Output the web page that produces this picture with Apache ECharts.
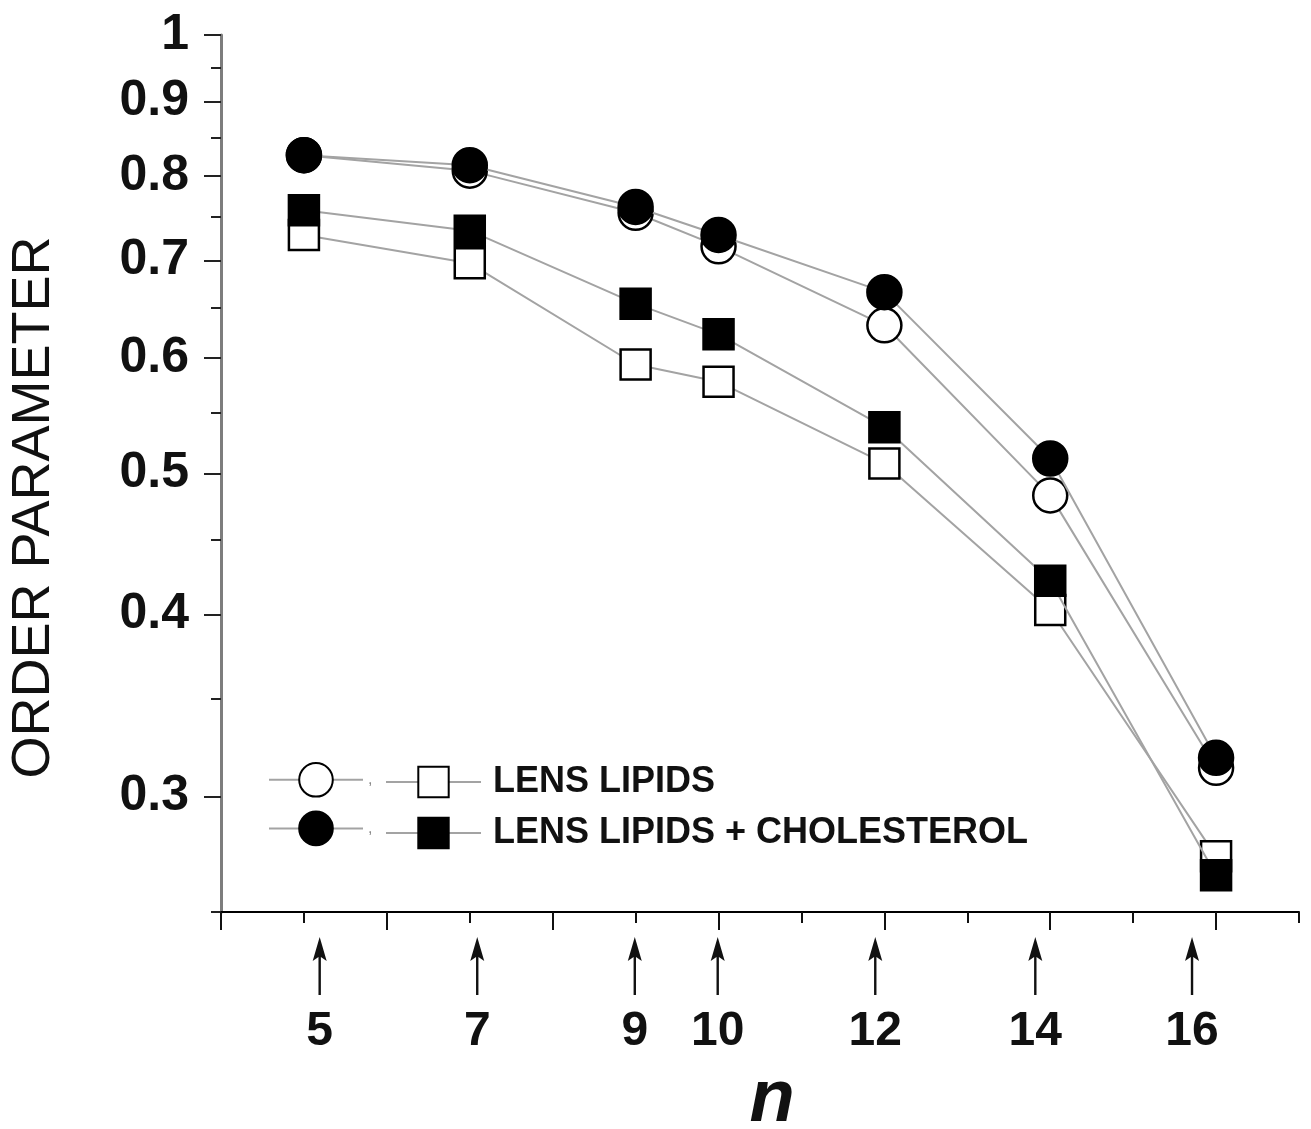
<!DOCTYPE html>
<html>
<head>
<meta charset="utf-8">
<script src="https://cdn.jsdelivr.net/npm/echarts@6/dist/echarts.min.js"></script>
<style>
html,body{margin:0;padding:0;background:#fff;}
#chart{width:1311px;height:1129px;}
</style>
</head>
<body>
<div id="chart"></div>
<script>
// ---- data ----
const nValues = [5, 7, 9, 10, 12, 14, 16];
const lensCircles = [0.827, 0.807, 0.755, 0.716, 0.632, 0.483, 0.314];
const cholCircles = [0.827, 0.814, 0.762, 0.729, 0.666, 0.512, 0.319];
const lensSquares = [0.729, 0.697, 0.594, 0.578, 0.508, 0.403, 0.273];
const cholSquares = [0.758, 0.734, 0.654, 0.623, 0.538, 0.422, 0.265];
const yMajorTicks = [0.3, 0.4, 0.5, 0.6, 0.7, 0.8, 0.9, 1];
const yMinorTicks = [0.25, 0.35, 0.45, 0.55, 0.65, 0.75, 0.85, 0.95];
const xMajorTicks = [4, 6, 8, 10, 12, 14, 16];
const xMinorTicks = [5, 7, 9, 11, 13, 15, 17];
const arrowPositions = [5.19, 7.09, 8.99, 9.99, 11.89, 13.82, 15.71];
const arrowLabels = ['5', '7', '9', '10', '12', '14', '16'];
const legendLabels = ['LENS LIPIDS', 'LENS LIPIDS + CHOLESTEROL'];

const FONT = "'Liberation Sans', Arial, Helvetica, sans-serif";
const lineGray = '#a3a3a3';
const toPairs = arr => arr.map((v, i) => [nValues[i], v]);

const gridRect = { left: 221, right: 12, top: 35, bottom: 217, outerBoundsMode: 'none', containLabel: false };

function mkSeries(name, data, symbol, size, filled, z) {
  return {
    name: name, type: 'line', xAxisIndex: 0, yAxisIndex: 0,
    data: toPairs(data), symbol: symbol, symbolSize: size, z: z,
    lineStyle: { color: lineGray, width: 2 },
    itemStyle: { color: filled ? '#000' : '#fff', borderColor: '#000', borderWidth: 2.5, opacity: 1 },
    emphasis: { disabled: true }, animation: false
  };
}

const sNames = ['lensC', 'cholC', legendLabels[0], legendLabels[1]];

const option = {
  animation: false,
  backgroundColor: '#fff',
  grid: [
    Object.assign({}, gridRect),
    Object.assign({}, gridRect),
    { left: 221, right: 12, top: 937, height: 58, outerBoundsMode: 'none' }
  ],
  xAxis: [
    { gridIndex: 0, type: 'value', min: 4, max: 17, position: 'bottom',
      axisLine: { show: true, lineStyle: { color: '#000', width: 2 } },
      axisTick: { show: true, customValues: xMajorTicks, length: 18, inside: false, lineStyle: { color: '#111', width: 2 } },
      axisLabel: { show: false }, splitLine: { show: false },
      name: 'n', nameLocation: 'middle', nameGap: 152,
      nameTextStyle: { fontFamily: FONT, fontSize: 74, fontStyle: 'italic', fontWeight: 'bold', color: '#111', padding: [0, 0, 0, 24] } },
    { gridIndex: 1, type: 'value', min: 4, max: 17, position: 'bottom',
      axisLine: { show: false },
      axisTick: { show: true, customValues: xMinorTicks, length: 11, inside: false, lineStyle: { color: '#111', width: 2 } },
      axisLabel: { show: false }, splitLine: { show: false } },
    { gridIndex: 2, type: 'value', min: 4, max: 17, show: false }
  ],
  yAxis: [
    { gridIndex: 0, type: 'log', logBase: 10, min: 0.25, max: 1,
      axisLine: { show: true, lineStyle: { color: '#7d7d7d', width: 3 } },
      axisTick: { show: true, customValues: yMajorTicks, length: 17, inside: false, lineStyle: { color: '#222', width: 2 } },
      axisLabel: { show: true, customValues: yMajorTicks, margin: 32, fontFamily: FONT, fontSize: 50, fontWeight: 'bold', color: '#111',
        formatter: v => String(Math.round(v * 100) / 100) },
      splitLine: { show: false }, minorTick: { show: false },
      name: 'ORDER PARAMETER', nameLocation: 'middle', nameGap: 160, nameRotate: 90,
      nameTextStyle: { fontFamily: FONT, fontSize: 54, color: '#111', padding: [0, 68, 0, 0] } },
    { gridIndex: 1, type: 'log', logBase: 10, min: 0.25, max: 1,
      axisLine: { show: false },
      axisTick: { show: true, customValues: yMinorTicks, length: 10, inside: false, lineStyle: { color: '#222', width: 2 } },
      axisLabel: { show: false }, splitLine: { show: false } },
    { gridIndex: 2, type: 'value', min: 0, max: 1, show: false }
  ],
  legend: [
    { left: 268, top: 762, padding: 0, orient: 'vertical', itemWidth: 94, itemHeight: 42, itemGap: 13,
      data: [sNames[0], sNames[1]], selectedMode: false,
      formatter: () => ',',
      textStyle: { fontFamily: FONT, fontSize: 16, color: '#888', padding: [26, 0, 0, 0] } },
    { left: 385, top: 764, padding: 0, orient: 'vertical', itemWidth: 95, itemHeight: 38, itemGap: 15,
      data: [sNames[2], sNames[3]], selectedMode: false,
      textStyle: { fontFamily: FONT, fontSize: 36, fontWeight: 'bold', color: '#111', padding: [0, 0, 0, 7] } }
  ],
  series: [
    mkSeries(sNames[0], lensCircles, 'circle', 34, false, 2),
    mkSeries(sNames[2], lensSquares, 'rect', 30, false, 2),
    mkSeries(sNames[1], cholCircles, 'circle', 34, true, 3),
    mkSeries(sNames[3], cholSquares, 'rect', 30, true, 3),
    { type: 'scatter', xAxisIndex: 2, yAxisIndex: 2, silent: true, animation: false,
      data: arrowPositions.map((x, i) => ({ value: [x, 0.5], label: { formatter: arrowLabels[i] } })),
      symbol: 'path://M7,0 L14,24 L8.2,20 L8.2,58 L5.8,58 L5.8,20 L0,24 Z',
      symbolSize: [14, 58], symbolKeepAspect: false,
      itemStyle: { color: '#111', opacity: 1 },
      label: { show: true, position: 'bottom', distance: 13, fontFamily: FONT, fontSize: 48, fontWeight: 'bold', color: '#111', opacity: 1 } }
  ]
};

const chart = echarts.init(document.getElementById('chart'), null, { renderer: 'canvas' });
chart.setOption(option);
</script>
</body>
</html>
